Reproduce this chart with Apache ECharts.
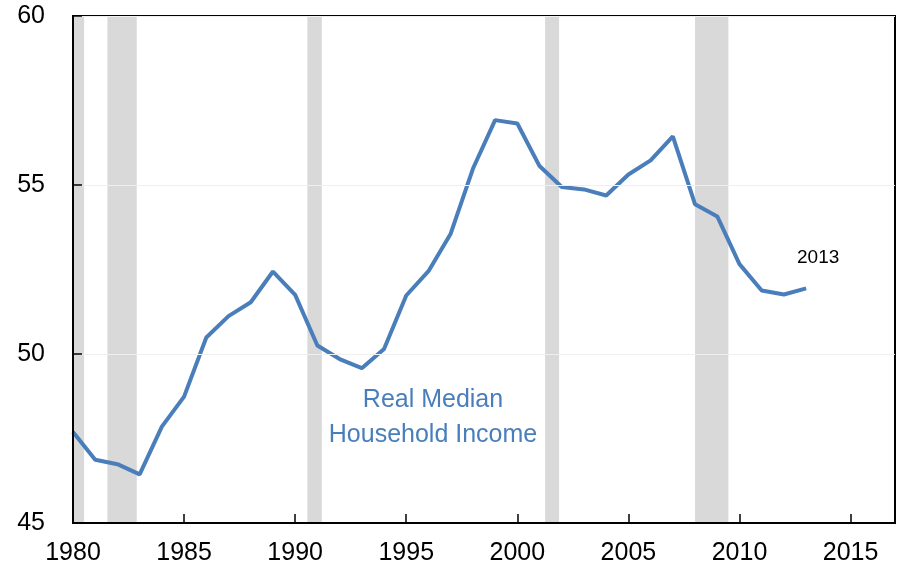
<!DOCTYPE html>
<html lang="en">
<head>
    <meta charset="UTF-8">
    <title>Real Median Household Income</title>
    <style>
        * { margin: 0; padding: 0; }
        html, body { height: 100%; background: #fff; }
        #chart { width: 899px; height: 567px; }
    </style>
    <script src="https://cdn.jsdelivr.net/npm/echarts@6/dist/echarts.min.js"></script>
</head>
<body>
<div id="chart"></div>
<script>
  // years and values (thousands of dollars)
  const years = [1980, 1981, 1982, 1983, 1984, 1985, 1986, 1987, 1988, 1989,
    1990, 1991, 1992, 1993, 1994, 1995, 1996, 1997, 1998, 1999,
    2000, 2001, 2002, 2003, 2004, 2005, 2006, 2007, 2008, 2009,
    2010, 2011, 2012, 2013]
  const income = [47.69, 46.87, 46.74, 46.44, 47.85, 48.74, 50.49, 51.12, 51.53, 52.44,
    51.75, 50.25, 49.85, 49.58, 50.15, 51.73, 52.45, 53.56, 55.48, 56.92,
    56.82, 55.56, 54.94, 54.87, 54.69, 55.31, 55.73, 56.44, 54.43, 54.07,
    52.66, 51.88, 51.76, 51.94]

  // recession periods (fractional years)
  const recessionStart = [1980.0, 1981.55, 1990.55, 2001.25, 2008.0]
  const recessionEnd = [1980.5, 1982.87, 1991.2, 2001.88, 2009.5]

  const xTicks = [1980, 1985, 1990, 1995, 2000, 2005, 2010, 2015]
  const yTicks = [45, 50, 55, 60]

  const lineColor = '#4a7ebb'
  const font = '"Liberation Sans", Arial, sans-serif'

  const chart = echarts.init(document.getElementById('chart'), null, { renderer: 'canvas' })

  chart.setOption({
    animation: false,
    grid: {
      left: 73, right: 4, top: 16, bottom: 44,
      show: true, borderColor: '#000', borderWidth: 2, backgroundColor: 'transparent'
    },
    xAxis: {
      type: 'value',
      min: 1980, max: 2017, interval: 5,
      z: 5,
      axisLine: { show: true, lineStyle: { color: '#000', width: 2 } },
      axisTick: { show: true, inside: true, length: 9, lineStyle: { color: '#000', width: 1.5 } },
      splitLine: { show: false },
      axisLabel: {
        margin: 18, fontSize: 25, color: '#000', fontFamily: font,
        showMaxLabel: false,
        formatter: v => xTicks.includes(v) ? String(v) : ''
      }
    },
    yAxis: {
      type: 'value',
      min: 45, max: 60, interval: 5,
      z: 5,
      axisLine: { show: true, lineStyle: { color: '#000', width: 2 } },
      axisTick: { show: true, inside: true, length: 9, lineStyle: { color: '#000', width: 1.5 } },
      splitLine: { show: true, lineStyle: { color: '#efefef', width: 1 } },
      axisLabel: {
        margin: 28, fontSize: 25, color: '#000', fontFamily: font,
        formatter: v => yTicks.includes(v) ? String(v) : ''
      }
    },
    series: [{
      type: 'line',
      data: years.map((y, i) => [y, income[i]]),
      symbol: 'none',
      lineStyle: { color: lineColor, width: 4 },
      z: 3,
      markArea: {
        silent: true,
        itemStyle: { color: '#d9d9d9' },
        data: recessionStart.map((s, i) => [{ xAxis: s }, { xAxis: recessionEnd[i] }])
      }
    }],
    graphic: [
      {
        type: 'text', left: 797, top: 248,
        style: { text: '2013', fontSize: 19, fill: '#000', fontFamily: font }
      },
      {
        type: 'text', x: 433, y: 418,
        style: {
          text: 'Real Median\nHousehold Income', fontSize: 25, lineHeight: 35,
          fill: lineColor, fontFamily: font, align: 'center', verticalAlign: 'middle'
        }
      }
    ]
  })
</script>
</body>
</html>
